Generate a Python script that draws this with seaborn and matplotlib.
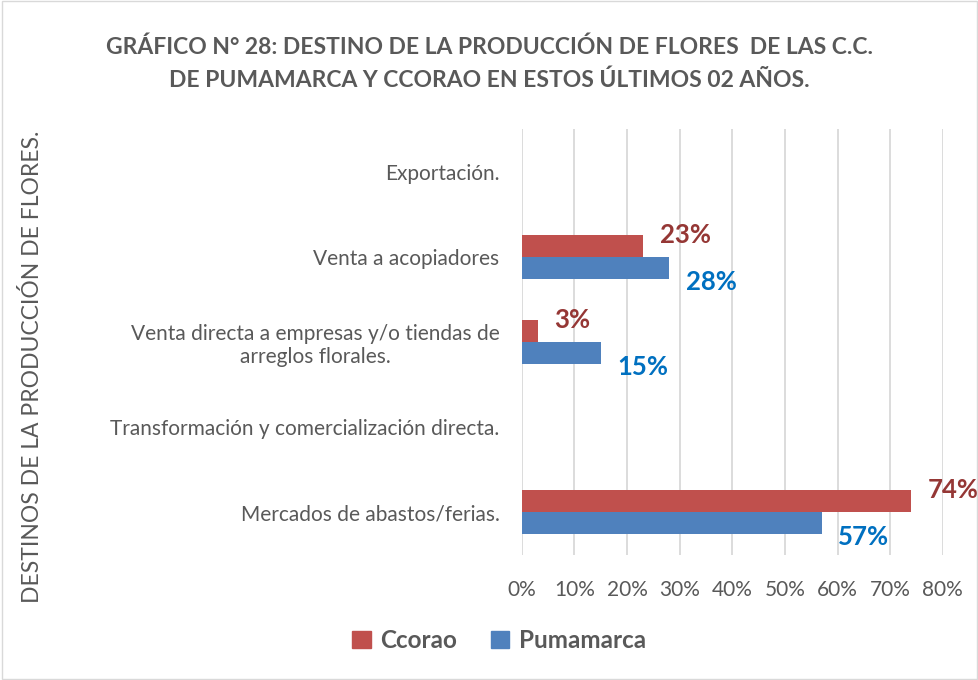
import pandas as pd
import seaborn as sns
import matplotlib.pyplot as plt
from matplotlib.patches import Rectangle
from matplotlib.ticker import FuncFormatter

# data (percent)
destinos = [
    "Exportación.",
    "Venta a acopiadores",
    "Venta directa a empresas y/o tiendas de\narreglos florales.",
    "Transformación y comercialización directa.",
    "Mercados de abastos/ferias.",
]
series = ["Ccorao", "Pumamarca"]
ccorao = [0, 23, 3, 0, 74]
pumamarca = [0, 28, 15, 0, 57]

colors = {"Ccorao": "#C0504D", "Pumamarca": "#4F81BD"}
label_colors = {"Ccorao": "#953735", "Pumamarca": "#0070C0"}
gray = "#595959"

df = pd.DataFrame({
    "destino": destinos * 2,
    "serie": [series[0]] * len(destinos) + [series[1]] * len(destinos),
    "valor": ccorao + pumamarca,
})

sns.set_theme(style="white")
plt.rcParams["font.family"] = ["Lato", "DejaVu Sans"]

fig = plt.figure(figsize=(9.79, 6.8), dpi=100)
ax = fig.add_axes([0.533, 0.184, 0.43, 0.626])

sns.barplot(data=df, x="valor", y="destino", hue="serie", order=destinos,
            hue_order=series, palette=colors, orient="h", width=0.52,
            saturation=1, linewidth=0, legend=False, ax=ax)

ax.set_xlim(0, 80)
ax.set_xticks(range(0, 81, 10))
ax.xaxis.set_major_formatter(FuncFormatter(lambda v, p: f"{v:.0f}%"))
ax.grid(axis="x", color="#D9D9D9", linewidth=1.3)
ax.grid(axis="y", visible=False)
for s in ax.spines.values():
    s.set_visible(False)
ax.tick_params(axis="both", length=0, labelsize=15, labelcolor=gray)
ax.tick_params(axis="x", pad=18)
ax.tick_params(axis="y", pad=16)
ax.set_xlabel("")
ax.set_ylabel("")
for t in ax.get_yticklabels():
    t.set_multialignment("center")

# data labels
for cont, name in zip(ax.containers, series):
    dy = 8 if name == "Ccorao" else -10
    for bar in cont:
        w = bar.get_width()
        if w <= 0:
            continue
        ax.annotate(f"{w:.0f}%", (w, bar.get_y() + bar.get_height() / 2),
                    xytext=(12, dy), textcoords="offset points",
                    ha="left", va="center", fontsize=18.5, fontweight="bold",
                    color=label_colors[name], annotation_clip=False)

fig.text(0.5, 0.906, "GRÁFICO N° 28: DESTINO DE LA PRODUCCIÓN DE FLORES  DE LAS C.C.\n"
         "DE PUMAMARCA Y CCORAO EN ESTOS ÚLTIMOS 02 AÑOS.",
         ha="center", va="center", fontsize=16.5, fontweight="bold", color=gray,
         linespacing=1.65)
fig.text(0.033, 0.46, "DESTINOS DE LA PRODUCCIÓN DE FLORES.", rotation=90,
         ha="center", va="center", fontsize=16.5, color=gray)

handles = [Rectangle((0, 0), 1, 1, color=colors[s]) for s in series]
leg = fig.legend(handles, series, loc="center", bbox_to_anchor=(0.51, 0.058),
                 ncol=2, frameon=False, handlelength=0.75, handleheight=0.75,
                 columnspacing=1.4, handletextpad=0.4,
                 prop={"size": 17.5, "weight": "bold"})
for t in leg.get_texts():
    t.set_color(gray)

fig.patches.append(Rectangle((0.002, 0.002), 0.996, 0.996, transform=fig.transFigure,
                             fill=False, edgecolor="#D9D9D9", linewidth=1))

fig.savefig("out.png", dpi=100, facecolor="white")
